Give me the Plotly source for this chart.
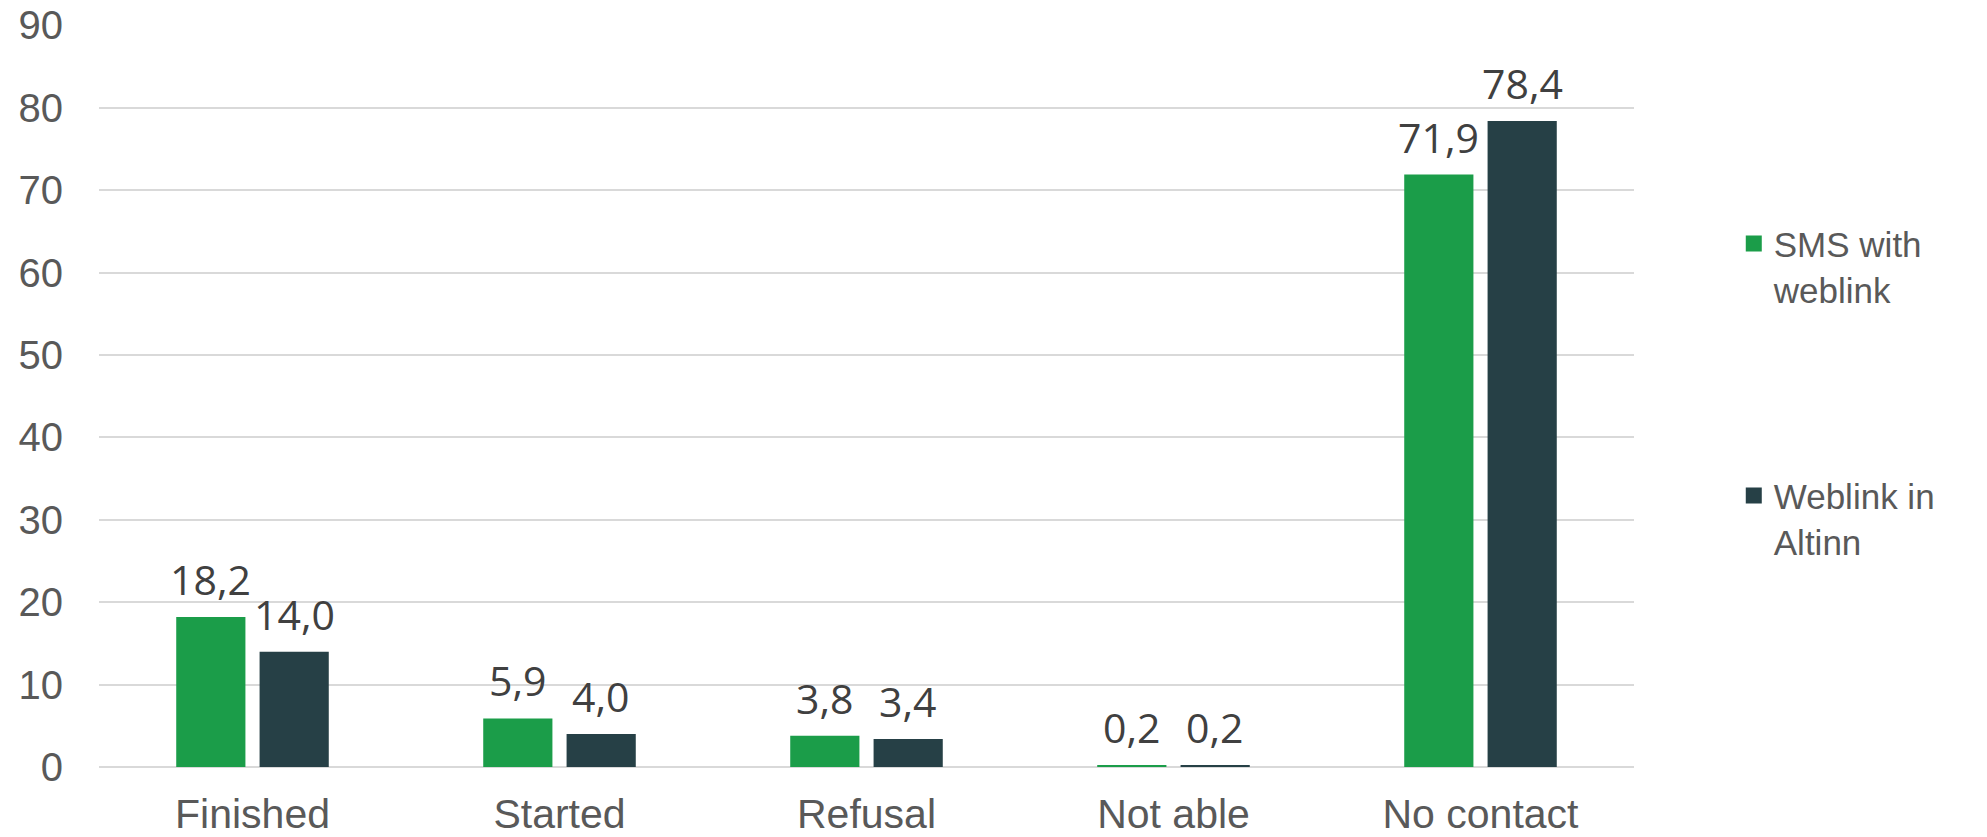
import plotly.graph_objects as go

categories = ["Finished", "Started", "Refusal", "Not able", "No contact"]
sms_values = [18.2, 5.9, 3.8, 0.2, 71.9]
altinn_values = [14.0, 4.0, 3.4, 0.2, 78.4]
series_names = ["SMS with<br>weblink", "Weblink in<br>Altinn"]
y_ticks = [0, 10, 20, 30, 40, 50, 60, 70, 80, 90]

GREEN = "#1B9D49"
DARK = "#264046"
BAR_OFFSET_PX = 41.7

fig = go.Figure()
series = [(series_names[0], sms_values, GREEN, "a", -BAR_OFFSET_PX),
          (series_names[1], altinn_values, DARK, "b", BAR_OFFSET_PX)]
for name, vals, col, grp, shift in series:
    fig.add_trace(go.Bar(
        x=categories, y=vals, name=name, legendgroup=grp, showlegend=False,
        marker=dict(color=col, line=dict(width=0)),
    ))
    for c, v in zip(categories, vals):
        fig.add_annotation(
            x=c, y=v, xref="x", yref="y", text=f"{v:.1f}".replace(".", ","),
            showarrow=False, xshift=shift, yshift=8, yanchor="bottom",
            font=dict(family="Open Sans", size=41, color="#404040"),
        )

# legend-only entries with larger square swatches
for name, vals, col, grp, shift in series:
    fig.add_trace(go.Scatter(
        x=[None], y=[None], mode="markers", name=name, legendgroup=grp,
        marker=dict(symbol="square", size=21, color=col),
        showlegend=True,
    ))

fig.update_layout(
    width=1987, height=837,
    margin=dict(l=99, r=353, t=25, b=70),
    paper_bgcolor="white", plot_bgcolor="white",
    barmode="group", bargap=0.457, bargroupgap=0.17,
    font=dict(family="Liberation Sans, Arial", size=40, color="#595959"),
    xaxis=dict(showgrid=False, showline=False, ticks="", automargin=False,
               ticklabelstandoff=19,
               tickfont=dict(size=41, color="#595959")),
    yaxis=dict(range=[0, 90.05], tickvals=y_ticks, showgrid=True,
               gridcolor="#D9D9D9", gridwidth=2, zeroline=True,
               zerolinecolor="#D9D9D9", zerolinewidth=2, automargin=False,
               showline=False, ticks="", ticklabelstandoff=35,
               tickfont=dict(size=40, color="#595959")),
    legend=dict(x=1.065, xanchor="left", y=0.745, yanchor="top",
                font=dict(size=35, color="#595959"),
                tracegroupgap=158, itemwidth=30, traceorder="grouped",
                valign="top", bgcolor="rgba(0,0,0,0)"),
    showlegend=True,
)
fig.write_html("out.html")
